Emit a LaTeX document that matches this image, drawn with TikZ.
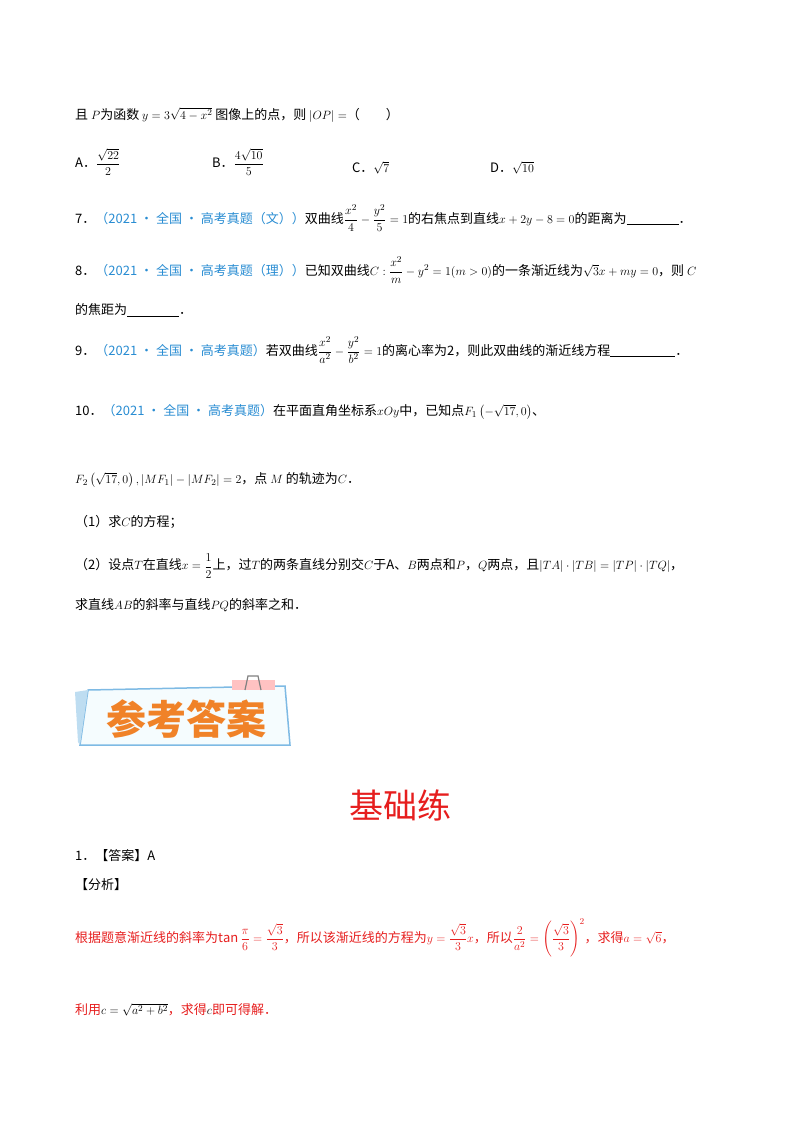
\documentclass[tikz,border=0pt]{standalone}
\usepackage{fontspec}
\usepackage{amsmath}
\setmainfont{Noto Sans CJK SC}
\definecolor{blu}{RGB}{40,140,210}
\definecolor{org}{RGB}{240,130,40}
\definecolor{rd}{RGB}{230,30,30}
\tikzset{t/.style={anchor=west,inner sep=0pt,font=\fontsize{13}{15}\selectfont}}
\newcommand{\src}[1]{\textcolor{blu}{#1}}
\begin{document}
\begin{tikzpicture}[x=1pt,y=-1pt]
\useasboundingbox (0,0) rectangle (800,1132);
\node[t] (l1) at (75,115) {且 $P$为函数 $y=3\sqrt{4-x^2}$ 图像上的点，则 $|OP|=$（\quad\quad）};
\node[t] (a) at (75,162) {A．$\dfrac{\sqrt{22}}{2}$};
\node[t] (b) at (212,162) {B．$\dfrac{4\sqrt{10}}{5}$};
\node[t] (c) at (352,168) {C．$\sqrt{7}$};
\node[t] (d) at (490,168) {D．$\sqrt{10}$};
\node[t] (q7) at (75,218) {7．\src{（2021 • 全国 • 高考真题（文））}双曲线$\dfrac{x^2}{4}-\dfrac{y^2}{5}=1$的右焦点到直线$x+2y-8=0$的距离为\underline{\hspace{4em}}．};
\node[t] (q8) at (75,270) {8．\src{（2021 • 全国 • 高考真题（理））}已知双曲线$C:\dfrac{x^2}{m}-y^2=1(m>0)$的一条渐近线为$\sqrt{3}x+my=0$，则 $C$};
\node[t] (q8b) at (75,310) {的焦距为\underline{\hspace{4em}}．};
\node[t] (q9) at (75,350) {9．\src{（2021 • 全国 • 高考真题）}若双曲线$\dfrac{x^2}{a^2}-\dfrac{y^2}{b^2}=1$的离心率为2，则此双曲线的渐近线方程\underline{\hspace{5em}}．};
\node[t] (q10) at (75,412) {10．\src{（2021 • 全国 • 高考真题）}在平面直角坐标系$xOy$中，已知点$F_1\left(-\sqrt{17},0\right)$、};
\node[t] (q10b) at (75,480) {$F_2\left(\sqrt{17},0\right),\left|MF_1\right|-\left|MF_2\right|=2$，点 $M$ 的轨迹为$C$．};
\node[t] (q10c) at (75,522) {（1）求$C$的方程；};
\node[t] (q10d) at (75,566) {（2）设点$T$在直线$x=\dfrac12$上，过$T$的两条直线分别交$C$于A、$B$两点和$P$，$Q$两点，且$|TA|\cdot|TB|=|TP|\cdot|TQ|$，};
\node[t] (q10e) at (75,605) {求直线$AB$的斜率与直线$PQ$的斜率之和．};
% banner
\draw[blu!60,line width=1.5pt,fill=cyan!4] (88,690) -- (285,686) -- (290,745) -- (80,745) -- cycle;
\fill[blu!30] (75,692) -- (88,690) -- (80,745) -- (78,742) -- cycle;
\fill[pink!80!red!60] (232,680) rectangle (275,690);
\draw[gray,line width=1.2pt] (245,690) -- (248,676) -- (258,676) -- (261,690);
\node[font=\fontsize{40}{42}\selectfont\bfseries,text=org] (ban) at (186,719) {参考答案};
\node[font=\fontsize{34}{36}\selectfont,text=rd] (h) at (400,805) {基础练};
\node[t] (ans) at (75,856) {1．【答案】A};
\node[t] (fx) at (75,885) {【分析】};
\node[t,text=rd] (r1) at (75,938) {根据题意渐近线的斜率为$\tan\dfrac{\pi}{6}=\dfrac{\sqrt3}{3}$，所以该渐近线的方程为$y=\dfrac{\sqrt3}{3}x$，所以$\dfrac{2}{a^2}=\left(\dfrac{\sqrt3}{3}\right)^2$，求得$a=\sqrt6$，};
\node[t,text=rd] (r2) at (75,1010) {利用{\color{black}$c=\sqrt{a^2+b^2}$}，求得{\color{black}$c$}即可得解．};
\end{tikzpicture}
\end{document}
